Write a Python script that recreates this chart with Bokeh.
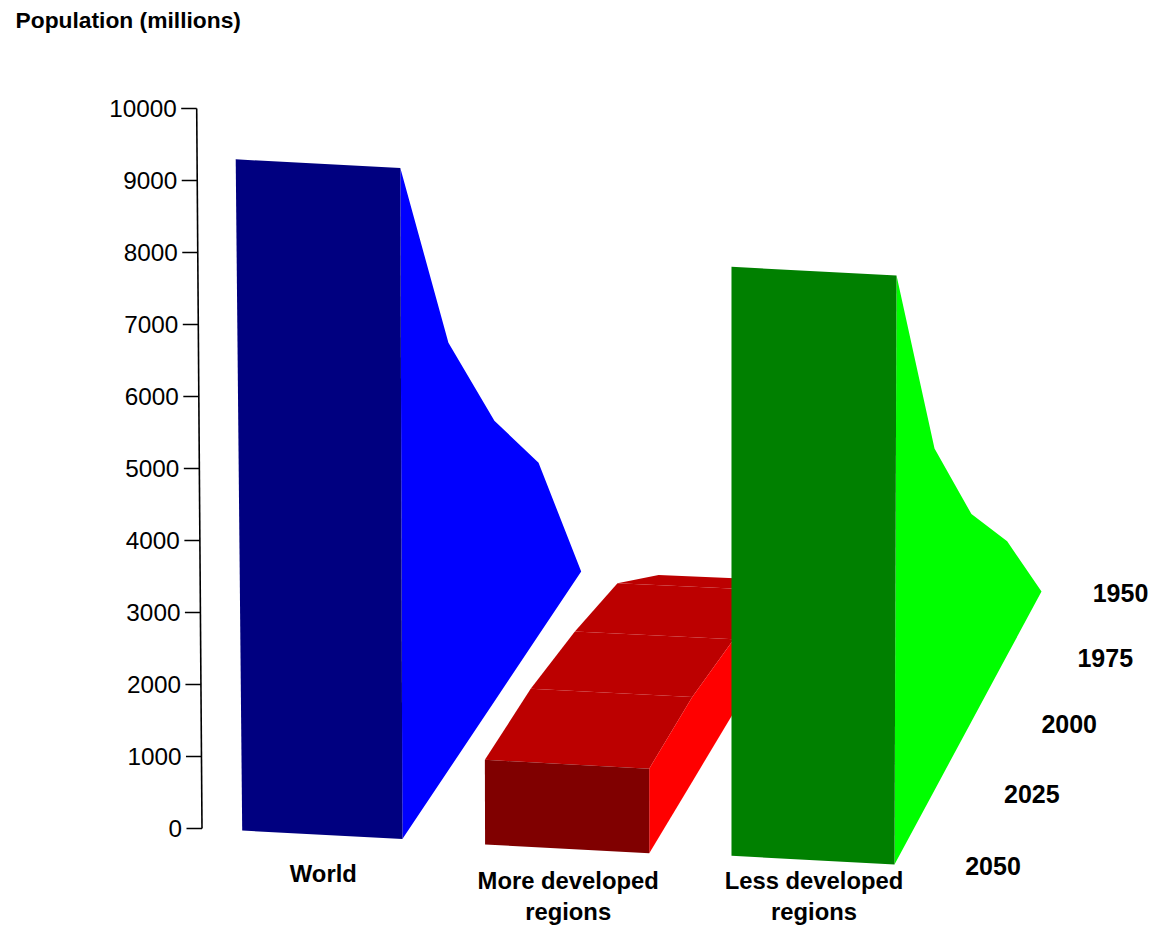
import numpy as np
from bokeh.plotting import figure
from bokeh.models import Range1d
from bokeh.core.properties import value
from bokeh.embed import file_html
from bokeh.resources import INLINE

# ---- data (values as drawn, front to back) ----
years = ["2050", "2025", "2000", "1975", "1950"]
world = [9270, 5990, 4010, 2510, 0]
more_developed = [1170, 1190, 1050, 810, 0]
less_developed = [8135, 4840, 2995, 1675, 0]
tick_values = [0, 1000, 2000, 3000, 4000, 5000, 6000, 7000, 8000, 9000, 10000]
y_title = "Population (millions)"
category_lines = [["World"], ["More developed", "regions"], ["Less developed", "regions"]]
category_values = [world, more_developed, less_developed]

# ---- layout and style, one entry per category ----
spans = [(0.0, 0.2501), (0.378, 0.6297), (0.7546, 1.0)]
front_shift = [1.0, 2.0, 0.0]
front_colors = ["#000080", "#800000", "#008000"]
top_colors = ["#0000C0", "#BC0000", "#00C000"]
side_colors = ["#0000FF", "#FF0000", "#00FF00"]

# ---- projection of the 3D scene ----
FIG_W, FIG_H = 1151, 929          # window less the page's 8px margins

src = [(0, 0), (1, 0), (1, 1), (0, 1)]
dst = [(241.7, 829), (894, 864), (1041, 591), (430.6, 564.5)]
A, b = [], []
for (u, d), (x, y) in zip(src, dst):
    A.append([u, d, 1, 0, 0, 0, -u * x, -d * x]); b.append(x)
    A.append([0, 0, 0, u, d, 1, -u * y, -d * y]); b.append(y)
H = np.append(np.linalg.solve(np.array(A, float), np.array(b, float)), 1.0).reshape(3, 3)
PX_PER_UNIT = 0.0724
LEAN_X = [242, 403, 731, 894]
LEAN_PER_UNIT = [-7.0e-4, -2.2e-4, 0.0, 2.5e-4]


def project(u, d, val=0.0, shift=0.0):
    gx, gy, w = H @ np.array([u, d, 1.0])
    w0 = (H @ np.array([u, 0.0, 1.0]))[2]
    gx, gy = gx / w, gy / w
    y = gy + shift * (1 - d) - val * PX_PER_UNIT * w0 / w
    x = gx + float(np.interp(gx, LEAN_X, LEAN_PER_UNIT)) * val
    return x, y


n = len(years)
depth = [i / (n - 1) for i in range(n)]

p = figure(width=FIG_W, height=FIG_H, x_range=Range1d(0, FIG_W), y_range=Range1d(FIG_H, 0),
           output_backend="svg", toolbar_location=None,
           x_axis_location=None, y_axis_location=None, min_border=0)
p.grid.visible = False
p.outline_line_color = None

FONT = value("Liberation Sans")


def txt(x, y, s, size, bold=True, align="center"):
    p.text([x], [y], text=[s], text_font=FONT, text_font_size=f"{size:.2f}px",
           text_font_style="bold" if bold else "normal", text_color="#000000",
           text_align=align, text_baseline="middle")


# value axis
ax_bottom, ax_top = (201.5, 828.0), (196.2, 108.0)
tick_len = 15.5
vmax = max(tick_values)


def axis_at(val):
    f = val / vmax
    return ax_bottom[0] + (ax_top[0] - ax_bottom[0]) * f, ax_bottom[1] + (ax_top[1] - ax_bottom[1]) * f


p.line([axis_at(0)[0], axis_at(vmax)[0]], [axis_at(0)[1], axis_at(vmax)[1]],
       line_color="#000000", line_width=1.6)
for t in tick_values:
    x, y = axis_at(t)
    p.line([x - tick_len, x], [y, y], line_color="#000000", line_width=1.6)
    txt(x - tick_len - 4.5, y, str(t), 24.3, bold=False, align="right")

txt(15, 19.5, y_title, 22.8, align="left")

# solids
for c_i, v in enumerate(category_values):
    u0, u1 = spans[c_i]
    sh = front_shift[c_i]
    for i in range(n - 1):
        a = project(u0, depth[i], v[i], sh); b_ = project(u1, depth[i], v[i], sh)
        c = project(u1, depth[i + 1], v[i + 1], sh); d_ = project(u0, depth[i + 1], v[i + 1], sh)
        if c[1] < b_[1]:
            p.patch([a[0], b_[0], c[0], d_[0]], [a[1], b_[1], c[1], d_[1]],
                    fill_color=top_colors[c_i], line_color=None)
    pts = [project(u1, depth[i], v[i], sh) for i in range(n)] + \
          [project(u1, depth[i], 0, sh) for i in reversed(range(n))]
    p.patch([q[0] for q in pts], [q[1] for q in pts], fill_color=side_colors[c_i], line_color=None)
    pts = [project(u0, 0, 0, sh), project(u1, 0, 0, sh), project(u1, 0, v[0], sh), project(u0, 0, v[0], sh)]
    p.patch([q[0] for q in pts], [q[1] for q in pts], fill_color=front_colors[c_i], line_color=None)

# category labels, the lowest line kept inside the figure
LINE_STEP = 31
LOWEST_LINE_Y = 911
for c_i, lines in enumerate(category_lines):
    u0, u1 = spans[c_i]
    a, b_ = project(u0, 0, 0, front_shift[c_i]), project(u1, 0, 0, front_shift[c_i])
    cx, cy = (a[0] + b_[0]) / 2 + 1, (a[1] + b_[1]) / 2 + 39
    cy += min(0, LOWEST_LINE_Y - (cy + (len(lines) - 1) * LINE_STEP))
    for k, line in enumerate(lines):
        txt(cx, cy + k * LINE_STEP, line, 23.8)

# year labels, the farthest one kept inside the figure
YEAR_HALF_W = 31
for i, yr in enumerate(years):
    x, y = project(1.0, depth[i])
    txt(min(x + 98.5, FIG_W - YEAR_HALF_W), y + 1.5, yr, 25)

open("out.html", "w").write(file_html(p, INLINE))
